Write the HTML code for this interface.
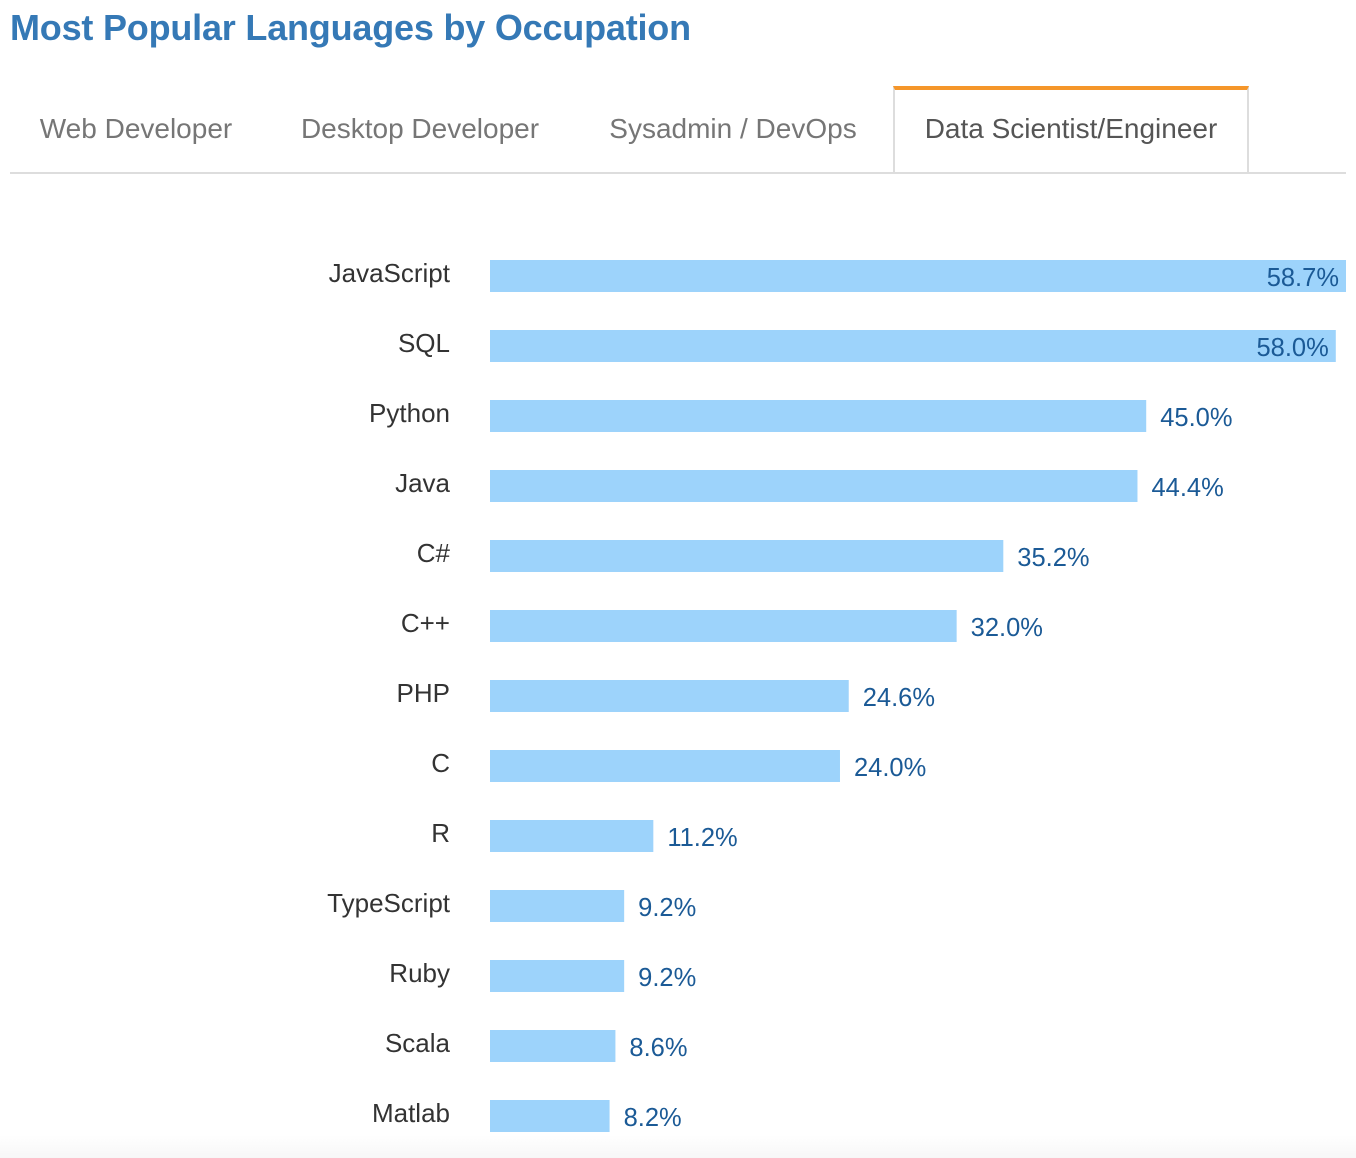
<!DOCTYPE html>
<html><head><meta charset="utf-8"><style>
body{margin:0;width:1356px;height:1158px;background:#fff;font-family:"Liberation Sans",sans-serif;overflow:hidden;position:relative}
.title{position:absolute;left:10px;top:7px;font-size:36px;font-weight:bold;color:#3579b6;margin:0;letter-spacing:-0.2px}
.tabbar{position:absolute;left:10px;top:88px;width:1336px;height:84px;border-bottom:2px solid #ddd}
.tab{position:absolute;top:0;height:84px;line-height:82px;font-size:28px;color:#767676;text-align:center}
.tab.active{background:#fff;border:2px solid #ddd;border-top:4px solid #f5962a;border-bottom:none;color:#555;height:82px;line-height:78px;top:-2px}
.foot{position:absolute;left:0;top:1135px;width:1356px;height:23px;background:linear-gradient(#fff,#f7f7f7)}
svg{position:absolute;left:0;top:0}
</style></head><body>
<h1 class="title">Most Popular Languages by Occupation</h1>
<div class="tabbar">
<div class="tab" style="left:0;width:252px">Web Developer</div>
<div class="tab" style="left:262px;width:296px">Desktop Developer</div>
<div class="tab" style="left:578px;width:290px">Sysadmin / DevOps</div>
<div class="tab active" style="left:883px;width:352px">Data Scientist/Engineer</div>
</div>
<div class="foot"></div>
<svg id="chart" width="1356" height="1158"></svg>
<script>
const categories=["JavaScript","SQL","Python","Java","C#","C++","PHP","C","R","TypeScript","Ruby","Scala","Matlab"];
const values=[58.7,58.0,45.0,44.4,35.2,32.0,24.6,24.0,11.2,9.2,9.2,8.6,8.2];
const valueLabels=["58.7%","58.0%","45.0%","44.4%","35.2%","32.0%","24.6%","24.0%","11.2%","9.2%","9.2%","8.6%","8.2%"];
const svg=document.getElementById('chart');
const NS='http://www.w3.org/2000/svg';
const x0=490,pxPer=(1346-490)/58.7;
function xs(v){return x0+v*pxPer;}
function ys(i){return 260+i*70;}
categories.forEach((c,i)=>{
  const y=ys(i),w=xs(values[i])-x0;
  const r=document.createElementNS(NS,'rect');
  r.setAttribute('x',x0);r.setAttribute('y',y);r.setAttribute('width',w);r.setAttribute('height',32);r.setAttribute('fill','#9dd3fb');
  
  
  svg.appendChild(r);
  const t=document.createElementNS(NS,'text');
  t.setAttribute('x',450);t.setAttribute('y',y+22);t.setAttribute('text-anchor','end');
  t.setAttribute('font-size','26');t.setAttribute('fill','#333');t.textContent=c;
  
  
  svg.appendChild(t);
  const v=document.createElementNS(NS,'text');
  const inside=xs(values[i])+14+74>1356;
  v.setAttribute('x',inside?xs(values[i])-7:xs(values[i])+14);
  v.setAttribute('text-anchor',inside?'end':'start');
  v.setAttribute('y',y+26);v.setAttribute('font-size','25.5');v.setAttribute('fill','#1b5a96');
  v.textContent=valueLabels[i];
  
  
  svg.appendChild(v);
});
</script>
</body></html>
